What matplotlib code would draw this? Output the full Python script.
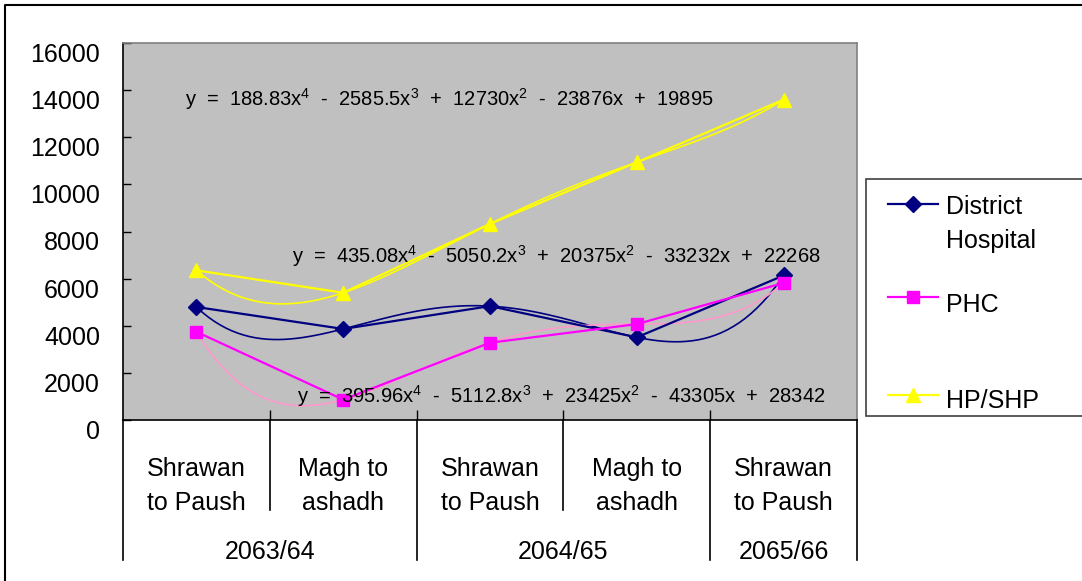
import numpy as np
import matplotlib
matplotlib.use("Agg")
import matplotlib.pyplot as plt
from matplotlib.patches import Rectangle
from matplotlib.transforms import blended_transform_factory

plt.rcParams['font.family'] = ['Liberation Sans', 'DejaVu Sans']
plt.rcParams['mathtext.fontset'] = 'custom'
plt.rcParams['mathtext.rm'] = 'Liberation Sans'
plt.rcParams['mathtext.default'] = 'regular'

# half-year periods
periods = ["Shrawan\nto Paush", "Magh to\nashadh", "Shrawan\nto Paush", "Magh to\nashadh", "Shrawan\nto Paush"]
years = ["2063/64", "2064/65", "2065/66"]
year_span = [(1, 2), (3, 4), (5, 5)]

district = [4796, 3864, 4833, 3508, 6133]
phc = [3745, 865, 3279, 4069, 5817]
hp_shp = [6352, 5400, 8324, 10939, 13596]

# 4th order polynomial trendlines (highest power first)
district_fit = [435.08, -5050.2, 20375, -33232, 22268]
phc_fit = [395.96, -5112.8, 23425, -43305, 28342]
hp_shp_fit = [188.83, -2585.5, 12730, -23876, 19895]

W, H = 1082, 581
fig = plt.figure(figsize=(W / 100, H / 100), dpi=100)
fig.patch.set_facecolor('white')

ax = fig.add_axes([123 / W, 1 - 420 / H, (857 - 123) / W, (420 - 43) / H])
ax.set_facecolor('#C0C0C0')
ax.set_xlim(0.5, 5.5)
ax.set_ylim(0, 16000)
ax.set_yticks(range(0, 16001, 2000))
ax.set_yticklabels([])
ax.set_xticks([1.5, 2.5, 3.5, 4.5])
ax.set_xticklabels([])
ax.tick_params(axis='y', direction='in', length=6, width=1, color='black')
ax.tick_params(axis='x', direction='in', length=7.5, width=1, color='black')
for s in ['left', 'bottom']:
    ax.spines[s].set_color('black')
    ax.spines[s].set_linewidth(1.2)
for s in ['top', 'right']:
    ax.spines[s].set_color('#808080')
    ax.spines[s].set_linewidth(1.2)

x = np.arange(1, 6)
xs = np.linspace(1, 5, 200)

series = [
    (district, district_fit, '#000080', '#000080', 'D', 8, 'District\nHospital'),
    (phc, phc_fit, '#FF00FF', '#FF99CC', 's', 8, 'PHC'),
    (hp_shp, hp_shp_fit, '#FFFF00', '#FFFF00', '^', 10, 'HP/SHP'),
]
for vals, fit, col, tcol, mk, ms, lab in series:
    ax.plot(xs, np.polyval(fit, xs), color=tcol, lw=1.2, zorder=2)
    ax.plot(x, vals, color=col, lw=1.6, marker=mk, markersize=ms,
            markeredgecolor=col, markerfacecolor=col, zorder=3, clip_on=False)


def fmt_eq(c):
    s = "y  =  %g" % c[0] + "x$^{4}$"
    powers = ["x$^{3}$", "x$^{2}$", "x", ""]
    for coef, p in zip(c[1:], powers):
        sign = "-" if coef < 0 else "+"
        s += "  %s  %g%s" % (sign, abs(coef), p)
    return s


ovl = fig.add_axes([0, 0, 1, 1])
ovl.set_xlim(0, W)
ovl.set_ylim(H, 0)
ovl.axis('off')
ovl.patch.set_alpha(0)

# equation labels
eq_pos = [(hp_shp_fit, 185, 106), (district_fit, 292, 263), (phc_fit, 297, 403)]
for fit, ex, ey in eq_pos:
    ovl.text(ex, ey, fmt_eq(fit), fontsize=14.5, ha='left', va='baseline', color='black')

# y tick labels, set a little below the tick marks
ylab = blended_transform_factory(ovl.transData, ax.transData)
for v in range(0, 16001, 2000):
    ovl.text(100, v, str(v), fontsize=18, ha='right', va='baseline',
             transform=ylab + matplotlib.transforms.ScaledTranslation(0, -19 / 100, fig.dpi_scale_trans))

# category axis: separators, period labels and year labels
cat = blended_transform_factory(ax.transData, ovl.transData)
for b in [0.5, 2.5, 4.5, 5.5]:
    ovl.plot([b, b], [420, 560], color='black', lw=1.2, transform=cat)
for b in [1.5, 3.5]:
    ovl.plot([b, b], [420, 510], color='black', lw=1.2, transform=cat)
for i, p in enumerate(periods):
    l1, l2 = p.split("\n")
    ovl.text(i + 1, 476, l1, fontsize=18, ha='center', va='baseline', transform=cat)
    ovl.text(i + 1, 510, l2, fontsize=18, ha='center', va='baseline', transform=cat)
for yr, (a, b) in zip(years, year_span):
    ovl.text((a + b) / 2, 559, yr, fontsize=18, ha='center', va='baseline', transform=cat)

# legend
ovl.add_patch(Rectangle((866, 179), 300, 237, facecolor='white', edgecolor='#404040', lw=1.2))
leg_y = [204, 297, 395]
leg_text = [[("District", 214), ("Hospital", 248)], [("PHC", 312)], [("HP/SHP", 408)]]
for (vals, fit, col, tcol, mk, ms, lab), ly, lines in zip(series, leg_y, leg_text):
    ovl.plot([888, 938], [ly, ly], color=col, lw=1.6)
    ovl.plot([913], [ly], marker=mk, markersize=ms, color=col)
    for t, by in lines:
        ovl.text(946, by, t, fontsize=18, ha='left', va='baseline')

# outer frame
ovl.plot([5, 5, W + 10], [H + 10, 5, 5], color='black', lw=1.5)

fig.savefig("out.png", dpi=100)
